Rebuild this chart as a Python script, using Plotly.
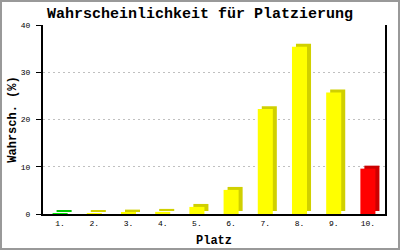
import plotly.graph_objects as go

places = ["1.", "2.", "3.", "4.", "5.", "6.", "7.", "8.", "9.", "10."]
probs = [0.2, 0.1, 0.3, 0.45, 1.5, 5.1, 22.2, 35.4, 25.7, 9.6]
front_colors = ["#00ee00"] + ["#ffff00"] * 8 + ["#ff0000"]
side_colors = ["#00c800"] + ["#d0d000"] * 8 + ["#cc0000"]
y_ticks = [0, 10, 20, 30, 40]

BAR_W = 0.44
DX = 0.117   # depth shift in category units (~4px)
DY = 0.63    # depth shift in value units (~3px)

fig = go.Figure()
# back (depth) box
fig.add_trace(go.Bar(
    x=places, y=probs, base=DY, width=BAR_W, offset=-BAR_W / 2 + DX,
    marker=dict(color=side_colors, line=dict(width=0)),
    hoverinfo="skip", showlegend=False,
))
# front face
fig.add_trace(go.Bar(
    x=places, y=probs, width=BAR_W, offset=-BAR_W / 2,
    marker=dict(color=front_colors, line=dict(width=0)),
    showlegend=False,
))

mono = "Liberation Mono, DejaVu Sans Mono, monospace"
L, R, T, B = 43, 15, 25, 36
PW, PH = 400 - L - R, 250 - T - B
fig.update_layout(
    width=400, height=250,
    margin=dict(l=L, r=R, t=T, b=B, autoexpand=False),
    paper_bgcolor="white", plot_bgcolor="white",
    barmode="overlay",
    font=dict(family=mono, color="black"),
    title=dict(text="<b>Wahrscheinlichkeit für Platzierung</b>",
               x=0.5, xanchor="center", y=1 - 13 / 250, yanchor="middle",
               yref="container", font=dict(size=15, family=mono, color="black")),
    xaxis=dict(
        type="category", showgrid=False, showline=True, linecolor="black",
        linewidth=2, mirror=False, ticks="", tickfont=dict(size=8, family=mono),
        title=dict(text="<b>Platz</b>", font=dict(size=12, family=mono), standoff=9),
        zeroline=False, fixedrange=True, automargin=False,
    ),
    yaxis=dict(
        range=[0, 40], tickvals=y_ticks, ticks="outside", ticklen=5, tickwidth=1,
        tickcolor="black", showline=True, linecolor="black", linewidth=2,
        mirror=True, showgrid=True, gridcolor="#c0c0c0", griddash="2px,3px",
        gridwidth=1, zeroline=False, tickfont=dict(size=8, family=mono),
        ticklabelstandoff=4, automargin=False,
        title=dict(text="<b>Wahrsch. (%)</b>", font=dict(size=12, family=mono), standoff=2),
    ),
)
# outer grey frame of the picture
fig.add_shape(type="rect", xref="paper", yref="paper",
              x0=(-L + 1) / PW, x1=1 + (R - 1) / PW,
              y0=(-B + 1) / PH, y1=1 + (T - 1) / PH,
              line=dict(color="#999999", width=2), fillcolor="rgba(0,0,0,0)")

fig.write_html("out.html")
